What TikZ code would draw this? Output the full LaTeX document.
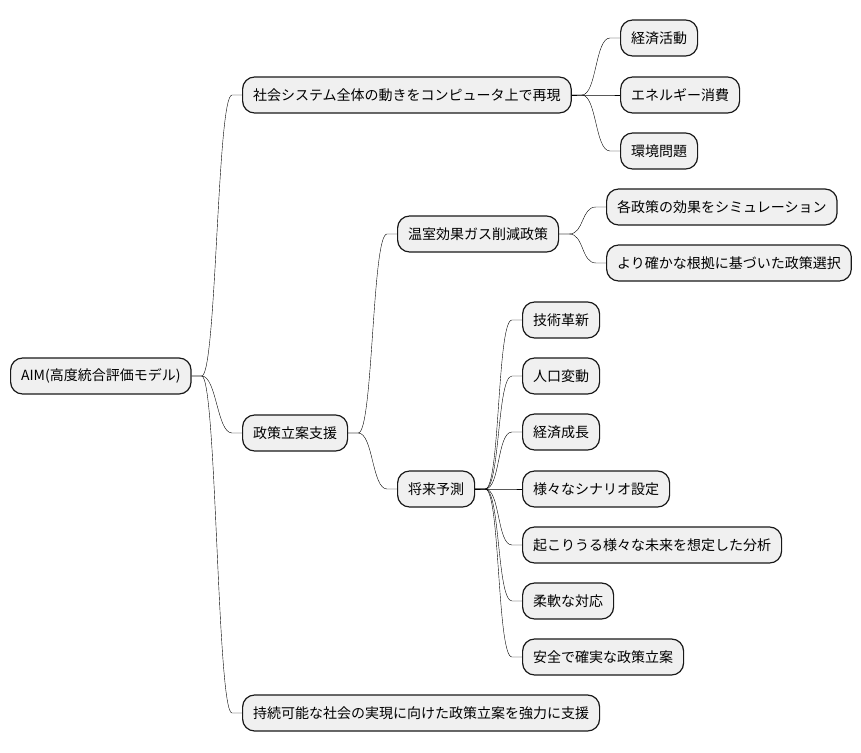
\documentclass[tikz,border=0pt]{standalone}
\usepackage{fontspec}
\setmainfont{Noto Sans CJK JP}
\usetikzlibrary{calc}
\begin{document}
\begin{tikzpicture}[x=1pt,y=-1pt,
  box/.style={draw=black!90,line width=1.2pt,fill=black!6,rounded corners=12pt,
    minimum height=36pt,inner xsep=10.5pt,inner ysep=0pt,anchor=west,
    font=\fontsize{14pt}{16pt}\selectfont},
  conn/.style={line width=1pt,to path={-- ++(10,0) .. controls +(15,0) and +(-15,0) .. ($(\tikztotarget)+(-10,0)$) -- (\tikztotarget)}}]
\useasboundingbox (0,0) rectangle (861,752);
\node[box] (aim) at (10,376) {AIM(高度統合評価モデル)};
\node[box] (soc) at (242,95) {社会システム全体の動きをコンピュータ上で再現};
\node[box] (k1) at (620,38) {経済活動};
\node[box] (k2) at (620,95) {エネルギー消費};
\node[box] (k3) at (620,151) {環境問題};
\node[box] (pol) at (242,433) {政策立案支援};
\node[box] (ghg) at (397,234) {温室効果ガス削減政策};
\node[box] (g1) at (606,207) {各政策の効果をシミュレーション};
\node[box] (g2) at (606,263) {より確かな根拠に基づいた政策選択};
\node[box] (fut) at (397,489) {将来予測};
\node[box] (f1) at (522,320) {技術革新};
\node[box] (f2) at (522,376) {人口変動};
\node[box] (f3) at (522,432) {経済成長};
\node[box] (f4) at (522,489) {様々なシナリオ設定};
\node[box] (f5) at (522,545) {起こりうる様々な未来を想定した分析};
\node[box] (f6) at (522,601) {柔軟な対応};
\node[box] (f7) at (522,657) {安全で確実な政策立案};
\node[box] (sup) at (242,713) {持続可能な社会の実現に向けた政策立案を強力に支援};
\foreach \a/\b in {aim/soc,aim/pol,aim/sup,soc/k1,soc/k2,soc/k3,pol/ghg,pol/fut,ghg/g1,ghg/g2,fut/f1,fut/f2,fut/f3,fut/f4,fut/f5,fut/f6,fut/f7}
  \draw (\a.east) to[conn] (\b.west);
\end{tikzpicture}
\end{document}
